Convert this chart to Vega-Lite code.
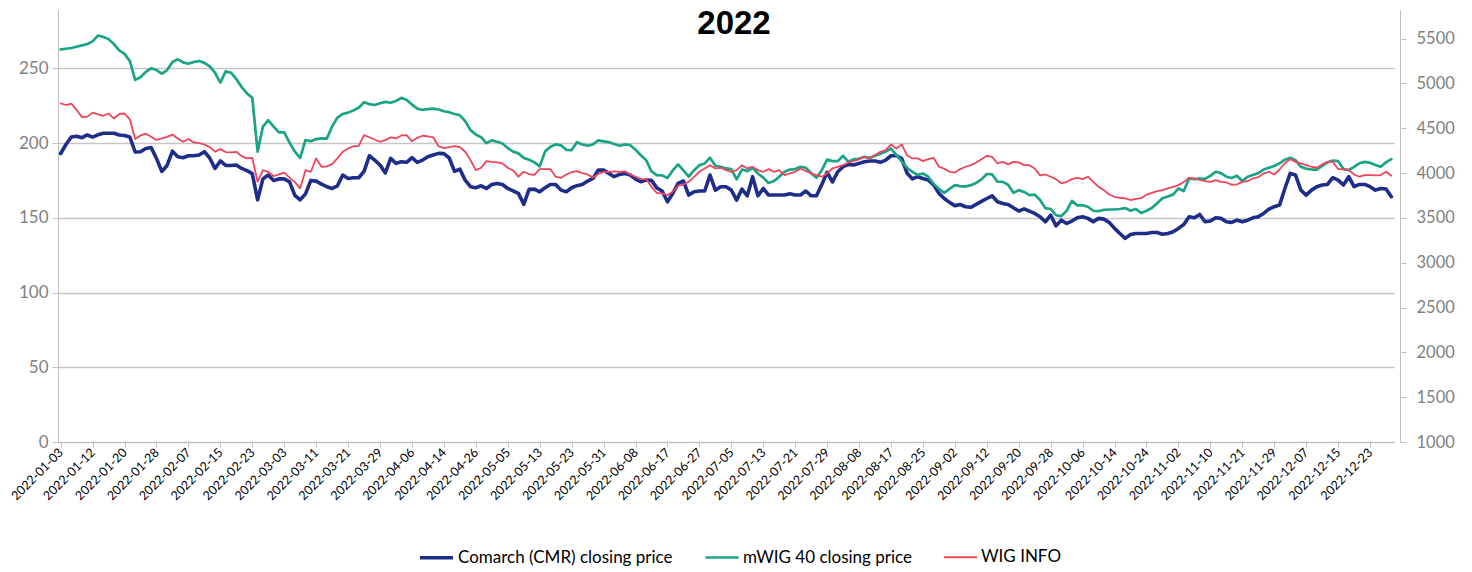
{
"$schema": "https://vega.github.io/schema/vega-lite/v6.json",
"width": 1342,
"height": 432,
"autosize": {"type": "none"},
"padding": {"left": 58, "top": 10, "right": 72, "bottom": 130},
"background": "#ffffff",
"config": {"view": {"stroke": null}, "font": "Lato"},
"title": {"text": "2022", "font": "Liberation Sans", "fontSize": 33, "fontWeight": "bold", "color": "#000000", "anchor": "middle", "offset": -31, "dx": 5},
"data": {"values": [
{"d":"2022-01-03","c":193,"m":5380,"w":4777},
{"d":"2022-01-04","c":199,"m":5388,"w":4760},
{"d":"2022-01-05","c":204,"m":5396,"w":4775},
{"d":"2022-01-07","c":204.5,"m":5410,"w":4705},
{"d":"2022-01-10","c":203.6,"m":5425,"w":4625},
{"d":"2022-01-11","c":205.4,"m":5440,"w":4630},
{"d":"2022-01-12","c":204,"m":5470,"w":4675},
{"d":"2022-01-13","c":205.5,"m":5535,"w":4655},
{"d":"2022-01-14","c":206.5,"m":5520,"w":4640},
{"d":"2022-01-17","c":206.5,"m":5495,"w":4665},
{"d":"2022-01-18","c":206.5,"m":5440,"w":4610},
{"d":"2022-01-19","c":205.4,"m":5370,"w":4660},
{"d":"2022-01-20","c":205,"m":5330,"w":4665},
{"d":"2022-01-21","c":204,"m":5250,"w":4600},
{"d":"2022-01-24","c":194,"m":5040,"w":4380},
{"d":"2022-01-25","c":194.2,"m":5070,"w":4420},
{"d":"2022-01-26","c":196.4,"m":5130,"w":4440},
{"d":"2022-01-27","c":197,"m":5170,"w":4405},
{"d":"2022-01-28","c":189.7,"m":5150,"w":4370},
{"d":"2022-01-31","c":181,"m":5110,"w":4387},
{"d":"2022-02-01","c":185,"m":5150,"w":4405},
{"d":"2022-02-02","c":194.6,"m":5240,"w":4430},
{"d":"2022-02-03","c":190.8,"m":5270,"w":4387},
{"d":"2022-02-04","c":190.2,"m":5235,"w":4350},
{"d":"2022-02-07","c":191.5,"m":5220,"w":4380},
{"d":"2022-02-08","c":191.5,"m":5240,"w":4342},
{"d":"2022-02-09","c":192,"m":5250,"w":4335},
{"d":"2022-02-10","c":194.2,"m":5230,"w":4320},
{"d":"2022-02-11","c":190,"m":5190,"w":4290},
{"d":"2022-02-14","c":183,"m":5120,"w":4240},
{"d":"2022-02-15","c":188,"m":5010,"w":4268},
{"d":"2022-02-16","c":185,"m":5135,"w":4235},
{"d":"2022-02-17","c":185,"m":5120,"w":4232},
{"d":"2022-02-18","c":185.3,"m":5050,"w":4238},
{"d":"2022-02-21","c":183,"m":4960,"w":4190},
{"d":"2022-02-22","c":181.5,"m":4890,"w":4164},
{"d":"2022-02-23","c":179.5,"m":4840,"w":4171},
{"d":"2022-02-24","c":162,"m":4240,"w":3903},
{"d":"2022-02-25","c":176,"m":4520,"w":4033},
{"d":"2022-02-28","c":178.6,"m":4590,"w":4015},
{"d":"2022-03-01","c":175,"m":4520,"w":3965},
{"d":"2022-03-02","c":176,"m":4455,"w":3985},
{"d":"2022-03-03","c":176,"m":4454,"w":4005},
{"d":"2022-03-04","c":174,"m":4340,"w":3950},
{"d":"2022-03-07","c":165,"m":4240,"w":3900},
{"d":"2022-03-08","c":162,"m":4170,"w":3830},
{"d":"2022-03-09","c":166,"m":4370,"w":4033},
{"d":"2022-03-10","c":175,"m":4355,"w":4015},
{"d":"2022-03-11","c":174.5,"m":4380,"w":4164},
{"d":"2022-03-14","c":172.5,"m":4387,"w":4071},
{"d":"2022-03-15","c":170.8,"m":4385,"w":4075},
{"d":"2022-03-16","c":169.6,"m":4520,"w":4100},
{"d":"2022-03-17","c":171.4,"m":4620,"w":4164},
{"d":"2022-03-18","c":178.6,"m":4660,"w":4238},
{"d":"2022-03-21","c":176.3,"m":4675,"w":4275},
{"d":"2022-03-22","c":176.8,"m":4700,"w":4300},
{"d":"2022-03-23","c":176.8,"m":4730,"w":4305},
{"d":"2022-03-24","c":181,"m":4790,"w":4424},
{"d":"2022-03-25","c":191.5,"m":4770,"w":4400},
{"d":"2022-03-28","c":188.6,"m":4760,"w":4375},
{"d":"2022-03-29","c":185.3,"m":4780,"w":4350},
{"d":"2022-03-30","c":180,"m":4795,"w":4368},
{"d":"2022-03-31","c":189.7,"m":4785,"w":4400},
{"d":"2022-04-01","c":186.4,"m":4805,"w":4387},
{"d":"2022-04-04","c":187.5,"m":4840,"w":4420},
{"d":"2022-04-05","c":187.1,"m":4815,"w":4424},
{"d":"2022-04-06","c":190.2,"m":4765,"w":4355},
{"d":"2022-04-07","c":187.1,"m":4720,"w":4394},
{"d":"2022-04-08","c":188.6,"m":4705,"w":4417},
{"d":"2022-04-11","c":190.8,"m":4715,"w":4410},
{"d":"2022-04-12","c":192,"m":4720,"w":4400},
{"d":"2022-04-13","c":193.1,"m":4710,"w":4300},
{"d":"2022-04-14","c":192.9,"m":4690,"w":4280},
{"d":"2022-04-19","c":190,"m":4680,"w":4290},
{"d":"2022-04-20","c":181,"m":4660,"w":4300},
{"d":"2022-04-21","c":182.5,"m":4645,"w":4290},
{"d":"2022-04-22","c":175.2,"m":4580,"w":4238},
{"d":"2022-04-25","c":170.8,"m":4480,"w":4145},
{"d":"2022-04-26","c":170.1,"m":4430,"w":4033},
{"d":"2022-04-27","c":171.4,"m":4400,"w":4060},
{"d":"2022-04-28","c":169.6,"m":4335,"w":4134},
{"d":"2022-04-29","c":172.3,"m":4365,"w":4126},
{"d":"2022-05-02","c":173,"m":4350,"w":4120},
{"d":"2022-05-04","c":172.3,"m":4330,"w":4108},
{"d":"2022-05-05","c":169.6,"m":4280,"w":4060},
{"d":"2022-05-06","c":168,"m":4240,"w":4030},
{"d":"2022-05-09","c":166.3,"m":4220,"w":3960},
{"d":"2022-05-10","c":159,"m":4170,"w":4015},
{"d":"2022-05-11","c":169,"m":4150,"w":3990},
{"d":"2022-05-12","c":169.2,"m":4120,"w":3980},
{"d":"2022-05-13","c":167.4,"m":4075,"w":4045},
{"d":"2022-05-16","c":170.1,"m":4240,"w":4045},
{"d":"2022-05-17","c":172.3,"m":4295,"w":4045},
{"d":"2022-05-18","c":172.3,"m":4320,"w":3960},
{"d":"2022-05-19","c":168.5,"m":4310,"w":3948},
{"d":"2022-05-20","c":167.4,"m":4260,"w":3985},
{"d":"2022-05-23","c":170.1,"m":4257,"w":4010},
{"d":"2022-05-24","c":171.5,"m":4345,"w":4022},
{"d":"2022-05-25","c":172.3,"m":4320,"w":4000},
{"d":"2022-05-26","c":174.6,"m":4305,"w":3985},
{"d":"2022-05-27","c":176.3,"m":4320,"w":3950},
{"d":"2022-05-30","c":181.9,"m":4365,"w":3990},
{"d":"2022-05-31","c":181.9,"m":4355,"w":4015},
{"d":"2022-06-01","c":179.7,"m":4345,"w":4015},
{"d":"2022-06-02","c":177.5,"m":4325,"w":4020},
{"d":"2022-06-03","c":179,"m":4305,"w":4015},
{"d":"2022-06-06","c":179.7,"m":4320,"w":4020},
{"d":"2022-06-07","c":178.6,"m":4312,"w":3985},
{"d":"2022-06-08","c":175.9,"m":4260,"w":3960},
{"d":"2022-06-09","c":174.1,"m":4200,"w":3933},
{"d":"2022-06-10","c":175.2,"m":4145,"w":3933},
{"d":"2022-06-13","c":175,"m":4020,"w":3847},
{"d":"2022-06-14","c":170,"m":3978,"w":3780},
{"d":"2022-06-15","c":167.9,"m":3975,"w":3773},
{"d":"2022-06-17","c":160.7,"m":3945,"w":3754},
{"d":"2022-06-20","c":166.3,"m":4030,"w":3792},
{"d":"2022-06-21","c":173,"m":4097,"w":3859},
{"d":"2022-06-22","c":174.6,"m":4030,"w":3873},
{"d":"2022-06-23","c":165.2,"m":3960,"w":3903},
{"d":"2022-06-24","c":167.4,"m":4033,"w":3959},
{"d":"2022-06-27","c":167.9,"m":4089,"w":4015},
{"d":"2022-06-28","c":167.9,"m":4108,"w":4052},
{"d":"2022-06-29","c":178.6,"m":4171,"w":4089},
{"d":"2022-06-30","c":168.5,"m":4082,"w":4052},
{"d":"2022-07-01","c":170.8,"m":4071,"w":4060},
{"d":"2022-07-04","c":170.8,"m":4052,"w":4033},
{"d":"2022-07-05","c":168.5,"m":4045,"w":4015},
{"d":"2022-07-06","c":161.8,"m":3930,"w":4033},
{"d":"2022-07-07","c":169.2,"m":4040,"w":4089},
{"d":"2022-07-08","c":164.7,"m":4022,"w":4052},
{"d":"2022-07-11","c":177.5,"m":4060,"w":4071},
{"d":"2022-07-12","c":164.7,"m":3996,"w":4033},
{"d":"2022-07-13","c":169.6,"m":3950,"w":4015},
{"d":"2022-07-14","c":165.2,"m":3890,"w":4045},
{"d":"2022-07-15","c":165.2,"m":3911,"w":4015},
{"d":"2022-07-18","c":165.2,"m":3959,"w":4033},
{"d":"2022-07-19","c":165.2,"m":4015,"w":3978},
{"d":"2022-07-20","c":166,"m":4040,"w":3996},
{"d":"2022-07-21","c":165.2,"m":4045,"w":4015},
{"d":"2022-07-22","c":165.2,"m":4071,"w":4052},
{"d":"2022-07-25","c":167.9,"m":4060,"w":4022},
{"d":"2022-07-26","c":164.7,"m":4000,"w":3996},
{"d":"2022-07-27","c":164.7,"m":3950,"w":3978},
{"d":"2022-07-28","c":172.3,"m":4033,"w":3960},
{"d":"2022-07-29","c":180.4,"m":4150,"w":3996},
{"d":"2022-08-01","c":174,"m":4134,"w":4052},
{"d":"2022-08-02","c":180.8,"m":4134,"w":4070},
{"d":"2022-08-03","c":184.2,"m":4193,"w":4089},
{"d":"2022-08-04","c":185.7,"m":4126,"w":4119},
{"d":"2022-08-05","c":185.3,"m":4156,"w":4134},
{"d":"2022-08-08","c":186.4,"m":4160,"w":4156},
{"d":"2022-08-09","c":187.5,"m":4182,"w":4182},
{"d":"2022-08-10","c":188,"m":4170,"w":4164},
{"d":"2022-08-11","c":188,"m":4193,"w":4201},
{"d":"2022-08-12","c":187.1,"m":4215,"w":4238},
{"d":"2022-08-16","c":188.6,"m":4240,"w":4257},
{"d":"2022-08-17","c":191.5,"m":4275,"w":4320},
{"d":"2022-08-18","c":191.5,"m":4200,"w":4275},
{"d":"2022-08-19","c":189.7,"m":4130,"w":4320},
{"d":"2022-08-22","c":180,"m":4060,"w":4200},
{"d":"2022-08-23","c":176,"m":4015,"w":4164},
{"d":"2022-08-24","c":177.5,"m":3980,"w":4164},
{"d":"2022-08-25","c":176.3,"m":3996,"w":4134},
{"d":"2022-08-26","c":175.2,"m":3960,"w":4156},
{"d":"2022-08-29","c":172,"m":3880,"w":4171},
{"d":"2022-08-30","c":166.3,"m":3825,"w":4071},
{"d":"2022-08-31","c":162.9,"m":3780,"w":4050},
{"d":"2022-09-01","c":160.3,"m":3825,"w":4015},
{"d":"2022-09-02","c":158,"m":3866,"w":4007},
{"d":"2022-09-05","c":158.9,"m":3855,"w":4045},
{"d":"2022-09-06","c":157.4,"m":3850,"w":4071},
{"d":"2022-09-07","c":157,"m":3866,"w":4089},
{"d":"2022-09-08","c":159,"m":3890,"w":4119},
{"d":"2022-09-09","c":161,"m":3930,"w":4156},
{"d":"2022-09-12","c":162.9,"m":3990,"w":4193},
{"d":"2022-09-13","c":164.7,"m":3985,"w":4182},
{"d":"2022-09-14","c":160.7,"m":3905,"w":4108},
{"d":"2022-09-15","c":159.6,"m":3903,"w":4126},
{"d":"2022-09-16","c":158.9,"m":3870,"w":4097},
{"d":"2022-09-19","c":156.7,"m":3780,"w":4126},
{"d":"2022-09-20","c":154.5,"m":3810,"w":4120},
{"d":"2022-09-21","c":156,"m":3790,"w":4089},
{"d":"2022-09-22","c":154.5,"m":3755,"w":4089},
{"d":"2022-09-23","c":152.9,"m":3760,"w":4052},
{"d":"2022-09-26","c":150.7,"m":3700,"w":3975},
{"d":"2022-09-27","c":147.3,"m":3610,"w":3985},
{"d":"2022-09-28","c":151.8,"m":3600,"w":3959},
{"d":"2022-09-29","c":144.6,"m":3530,"w":3933},
{"d":"2022-09-30","c":148.4,"m":3520,"w":3885},
{"d":"2022-10-03","c":146.2,"m":3580,"w":3903},
{"d":"2022-10-04","c":147.8,"m":3690,"w":3933},
{"d":"2022-10-05","c":150,"m":3640,"w":3948},
{"d":"2022-10-06","c":150.7,"m":3640,"w":3933},
{"d":"2022-10-07","c":149.6,"m":3625,"w":3960},
{"d":"2022-10-10","c":147.3,"m":3580,"w":3903},
{"d":"2022-10-11","c":149.6,"m":3575,"w":3847},
{"d":"2022-10-12","c":149.1,"m":3590,"w":3810},
{"d":"2022-10-13","c":146.9,"m":3594,"w":3762},
{"d":"2022-10-14","c":142.9,"m":3594,"w":3736},
{"d":"2022-10-17","c":139.5,"m":3600,"w":3725},
{"d":"2022-10-18","c":136.2,"m":3610,"w":3718},
{"d":"2022-10-19","c":138.8,"m":3580,"w":3700},
{"d":"2022-10-20","c":139.5,"m":3600,"w":3712},
{"d":"2022-10-21","c":139.5,"m":3555,"w":3720},
{"d":"2022-10-24","c":139.5,"m":3580,"w":3760},
{"d":"2022-10-25","c":140.2,"m":3610,"w":3780},
{"d":"2022-10-26","c":140.2,"m":3665,"w":3800},
{"d":"2022-10-27","c":139,"m":3720,"w":3810},
{"d":"2022-10-28","c":139.5,"m":3740,"w":3829},
{"d":"2022-10-31","c":140.6,"m":3760,"w":3847},
{"d":"2022-11-02","c":142.9,"m":3829,"w":3866},
{"d":"2022-11-03","c":145.5,"m":3800,"w":3900},
{"d":"2022-11-04","c":150.7,"m":3940,"w":3948},
{"d":"2022-11-07","c":150,"m":3933,"w":3940},
{"d":"2022-11-08","c":152.2,"m":3940,"w":3925},
{"d":"2022-11-09","c":147.3,"m":3935,"w":3911},
{"d":"2022-11-10","c":147.8,"m":3970,"w":3903},
{"d":"2022-11-14","c":150,"m":4015,"w":3922},
{"d":"2022-11-15","c":149.6,"m":4000,"w":3903},
{"d":"2022-11-16","c":147.3,"m":3960,"w":3896},
{"d":"2022-11-17","c":146.9,"m":3945,"w":3870},
{"d":"2022-11-18","c":148.4,"m":3970,"w":3875},
{"d":"2022-11-21","c":147.3,"m":3911,"w":3903},
{"d":"2022-11-22","c":148.4,"m":3960,"w":3910},
{"d":"2022-11-23","c":150,"m":3980,"w":3940},
{"d":"2022-11-24","c":150.7,"m":4000,"w":3955},
{"d":"2022-11-25","c":152.9,"m":4040,"w":3996},
{"d":"2022-11-28","c":155.8,"m":4060,"w":4015},
{"d":"2022-11-29","c":157.4,"m":4080,"w":3985},
{"d":"2022-11-30","c":158.5,"m":4110,"w":4040},
{"d":"2022-12-01","c":169.6,"m":4150,"w":4110},
{"d":"2022-12-02","c":179.7,"m":4171,"w":4156},
{"d":"2022-12-05","c":178.6,"m":4145,"w":4126},
{"d":"2022-12-06","c":168.5,"m":4071,"w":4108},
{"d":"2022-12-07","c":165.2,"m":4050,"w":4089},
{"d":"2022-12-08","c":168.5,"m":4040,"w":4071},
{"d":"2022-12-09","c":170.8,"m":4040,"w":4060},
{"d":"2022-12-12","c":171.9,"m":4080,"w":4097},
{"d":"2022-12-13","c":172.3,"m":4120,"w":4126},
{"d":"2022-12-14","c":176.8,"m":4140,"w":4126},
{"d":"2022-12-15","c":175.2,"m":4134,"w":4045},
{"d":"2022-12-16","c":171.9,"m":4045,"w":4045},
{"d":"2022-12-19","c":177.5,"m":4035,"w":4033},
{"d":"2022-12-20","c":170.8,"m":4070,"w":3985},
{"d":"2022-12-21","c":172.3,"m":4110,"w":3960},
{"d":"2022-12-22","c":172.3,"m":4126,"w":3978},
{"d":"2022-12-23","c":170.8,"m":4115,"w":3978},
{"d":"2022-12-27","c":168.5,"m":4090,"w":3975},
{"d":"2022-12-28","c":169.6,"m":4071,"w":3978},
{"d":"2022-12-29","c":169.2,"m":4120,"w":4015},
{"d":"2022-12-30","c":164.1,"m":4156,"w":3970}
]},
"transform": [{"fold": ["c", "m", "w"], "as": ["s", "v"]}],
"encoding": {
  "x": {"field": "d", "type": "ordinal", "sort": null,
    "scale": {"type": "point", "range": [0, 1336]},
    "axis": {"title": null, "values": ["2022-01-03","2022-01-12","2022-01-20","2022-01-28","2022-02-07","2022-02-15","2022-02-23","2022-03-03","2022-03-11","2022-03-21","2022-03-29","2022-04-06","2022-04-14","2022-04-26","2022-05-05","2022-05-13","2022-05-23","2022-05-31","2022-06-08","2022-06-17","2022-06-27","2022-07-05","2022-07-13","2022-07-21","2022-07-29","2022-08-08","2022-08-17","2022-08-25","2022-09-02","2022-09-12","2022-09-20","2022-09-28","2022-10-06","2022-10-14","2022-10-24","2022-11-02","2022-11-10","2022-11-21","2022-11-29","2022-12-07","2022-12-15","2022-12-23"],
      "labelAngle": -45, "labelAlign": "right", "labelBaseline": "middle", "labelFont": "Lato", "labelFontSize": 12.5, "labelColor": "#000000", "labelPadding": 3, "labelOverlap": false,
      "tickColor": "#bfbfbf", "tickSize": 5, "domainColor": "#bfbfbf", "domainWidth": 1, "grid": false}},
  "color": {"field": "s", "type": "nominal",
    "scale": {"domain": ["c", "m", "w"], "range": ["#1f2d8a", "#1aa385", "#f0435c"]},
    "legend": {"title": null, "orient": "none", "legendX": 360, "legendY": 529, "direction": "horizontal", "symbolType": "stroke", "symbolSize": 1100, "labelFont": "Lato", "labelFontSize": 17, "labelColor": "#000000", "labelLimit": 400, "labelOffset": 3, "columnPadding": 27,
      "labelExpr": "datum.label == 'c' ? 'Comarch (CMR) closing price' : datum.label == 'm' ? 'mWIG 40 closing price' : 'WIG INFO'"}},
  "strokeWidth": {"field": "s", "type": "nominal",
    "scale": {"domain": ["c", "m", "w"], "range": [3.6, 1.8, 1.8]},
    "legend": {"title": null, "orient": "none", "legendX": 360, "legendY": 529, "direction": "horizontal", "symbolType": "stroke", "symbolSize": 1100, "labelFont": "Lato", "labelFontSize": 17, "labelColor": "#000000", "labelLimit": 400, "labelOffset": 3, "columnPadding": 27,
      "labelExpr": "datum.label == 'c' ? 'Comarch (CMR) closing price' : datum.label == 'm' ? 'mWIG 40 closing price' : 'WIG INFO'"}}
},
"layer": [
  {"transform": [{"filter": "datum.s == 'c'"}],
   "mark": {"type": "line", "strokeJoin": "round", "strokeCap": "round"},
   "encoding": {"y": {"field": "v", "type": "quantitative",
     "scale": {"domain": [0, 289], "nice": false, "zero": true},
     "axis": {"title": null, "orient": "left", "values": [0, 50, 100, 150, 200, 250], "format": "d", "grid": true, "gridColor": "#c6c6c6", "gridWidth": 1.3, "domainColor": "#bfbfbf", "tickColor": "#bfbfbf", "tickSize": 6, "labelPadding": 4, "labelFont": "Lato", "labelFontSize": 17, "labelColor": "#7f7f7f"}}}},
  {"transform": [{"filter": "datum.s != 'c'"}],
   "mark": {"type": "line", "strokeJoin": "round", "strokeCap": "round"},
   "encoding": {"y": {"field": "v", "type": "quantitative",
     "scale": {"domain": [1000, 5820], "nice": false, "zero": false},
     "axis": {"title": null, "orient": "right", "values": [1000, 1500, 2000, 2500, 3000, 3500, 4000, 4500, 5000, 5500], "format": "d", "grid": false, "domainColor": "#bfbfbf", "tickColor": "#bfbfbf", "tickSize": 6, "labelPadding": 10, "labelFont": "Lato", "labelFontSize": 16.5, "labelColor": "#7f7f7f"}}}}
],
"resolve": {"scale": {"y": "independent"}}
}
